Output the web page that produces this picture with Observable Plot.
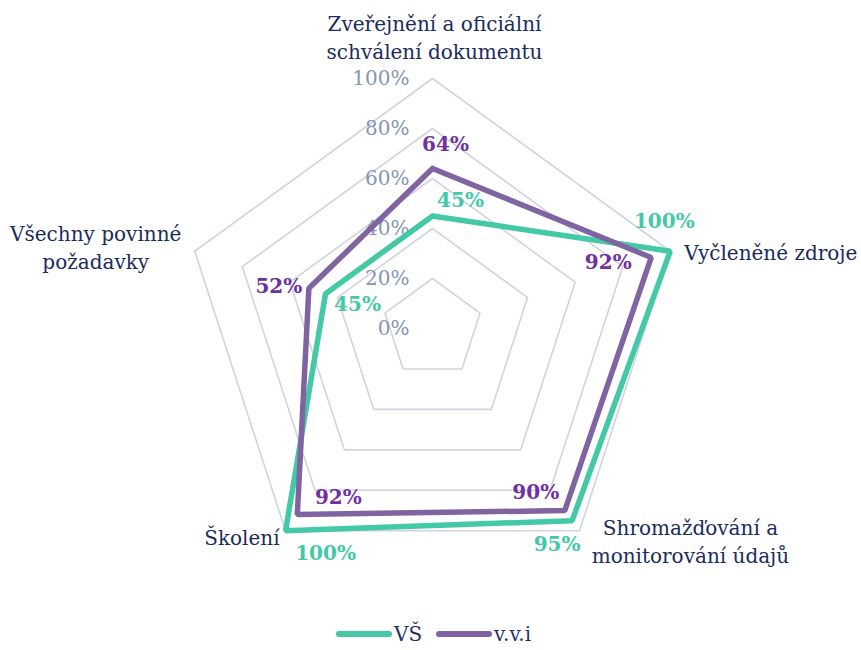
<!DOCTYPE html>
<html>
<head>
<meta charset="utf-8">
<script src="https://cdn.jsdelivr.net/npm/d3@7"></script>
<script src="https://cdn.jsdelivr.net/npm/@observablehq/plot@0.6"></script>
<style>
  body { margin: 0; background: #fff; }
  #chart { width: 861px; }
  .legend { display: flex; justify-content: center; align-items: center; gap: 14px; font-family: "DejaVu Serif", serif; font-size: 20px; color: #1f3064; margin-top: 7px; margin-left: 6px; }
  .legend span.sw { display: inline-block; width: 56px; height: 6px; border-radius: 3px; margin-right: 2px; vertical-align: middle; }
  .legend .item { display: flex; align-items: center; }
</style>
</head>
<body>
<div id="chart"></div>
<script>
const categories = [
  "Zveřejnění a oficiální\nschválení dokumentu",
  "Vyčleněné zdroje",
  "Shromažďování a\nmonitorování údajů",
  "Školení",
  "Všechny povinné\npožadavky"
];
const seriesNames = ["VŠ", "v.v.i"];
const valuesVS = [0.45, 1.00, 0.95, 1.00, 0.45];
const valuesVVI = [0.64, 0.92, 0.90, 0.92, 0.52];
const tickValues = [0, 0.2, 0.4, 0.6, 0.8, 1.0];
const tickLabels = ["0%", "20%", "40%", "60%", "80%", "100%"];
const colors = ["#44c9a6", "#8064a2"];
const labelColors = ["#44c9a6", "#7030a0"];

const W = 861, H = 615;
const n = categories.length;
const ang = i => Math.PI / 2 - i * 2 * Math.PI / n;
const pt = (i, r) => ({x: r * Math.cos(ang(i)), y: r * Math.sin(ang(i))});

// grid rings
const grid = [];
tickValues.filter(t => t > 0).forEach(t => {
  for (let i = 0; i <= n; i++) grid.push({...pt(i % n, t), ring: t});
});

// series rows
const rows = [];
[valuesVS, valuesVVI].forEach((vals, s) => {
  for (let i = 0; i <= n; i++) rows.push({...pt(i % n, vals[i % n]), series: seriesNames[s], v: vals[i % n], i: i % n});
});

// data label offsets (px) per series, per axis
const offs = [
  [[28, -15], [-6, -30], [-15, 24], [40, 23], [32, 11]],
  [[13, -24], [-43, 5], [-29, -18], [41, -17], [-30, -2]]
];
const labels = [];
[valuesVS, valuesVVI].forEach((vals, s) => {
  vals.forEach((v, i) => labels.push({...pt(i, v), text: Math.round(v * 100) + "%", s, dx: offs[s][i][0], dy: offs[s][i][1]}));
});

// category label positions
const catPos = [
  {...pt(0, 1), dx: 2, dy: -42, anchor: "middle"},
  {...pt(1, 1), dx: 14, dy: 0, anchor: "start"},
  {...pt(2, 1), dx: 111, dy: 9, anchor: "middle"},
  {...pt(3, 1), dx: -6, dy: 5, anchor: "end"},
  {...pt(4, 1), dx: -99, dy: -5, anchor: "middle"}
];
const catRows = categories.map((c, i) => ({...catPos[i], text: c}));

const tickRows = tickValues.map((t, k) => ({x: 0, y: t, text: tickLabels[k]}));

const cx = 432, cy = 328, R = 250;
const xDom = [-cx / R, (W - cx) / R];
const yDom = [-(H - cy) / R, cy / R];

const font = "DejaVu Serif, serif";

const plot = Plot.plot({
  width: W, height: H,
  margin: 0,
  x: {domain: xDom, axis: null},
  y: {domain: yDom, axis: null},
  style: {fontFamily: font, background: "#fff"},
  marks: [
    Plot.line(grid, {x: "x", y: "y", z: "ring", stroke: "#d0d4e0", strokeWidth: 1.6}),
    Plot.text(tickRows, {x: "x", y: "y", text: "text", textAnchor: "end", dx: -23, fill: "#8595b5", fontSize: 20}),
    Plot.line(rows.filter(d => d.series === seriesNames[0]), {x: "x", y: "y", stroke: colors[0], strokeWidth: 5.5, strokeLinejoin: "miter"}),
    Plot.line(rows.filter(d => d.series === seriesNames[1]), {x: "x", y: "y", stroke: colors[1], strokeWidth: 5.5, strokeLinejoin: "miter"}),
    ...labels.map(l => Plot.text([l], {x: "x", y: "y", text: "text", dx: l.dx, dy: l.dy, fill: labelColors[l.s], fontWeight: "bold", fontSize: 20})),
    ...catRows.map(c => Plot.text([c], {x: "x", y: "y", text: "text", dx: c.dx, dy: c.dy, textAnchor: c.anchor, fill: "#1a2b5e", fontSize: 20, lineHeight: 1.4}))
  ]
});
document.getElementById("chart").appendChild(plot);

const leg = document.createElement("div");
leg.className = "legend";
seriesNames.forEach((s, k) => {
  const it = document.createElement("div");
  it.className = "item";
  it.innerHTML = `<span class="sw" style="background:${colors[k]}"></span><span>${s}</span>`;
  leg.appendChild(it);
});
document.getElementById("chart").appendChild(leg);
</script>
</body>
</html>
